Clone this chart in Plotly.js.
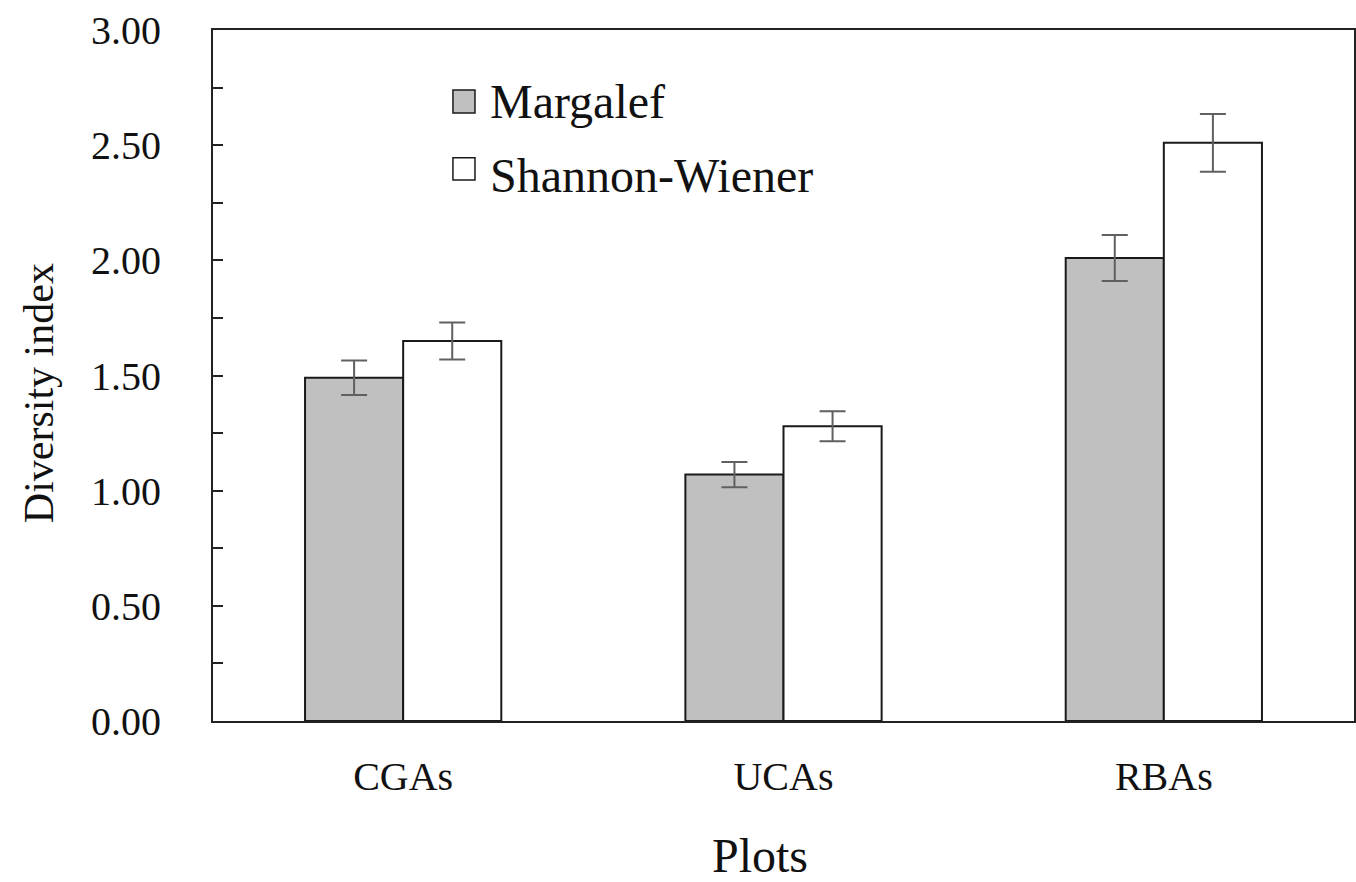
<!DOCTYPE html>
<html>
<head>
<meta charset="utf-8">
<script src="https://cdn.plot.ly/plotly-3.0.1.min.js"></script>
<style>html,body{margin:0;padding:0;background:#fff;}#chart{width:1356px;height:882px;}</style>
</head>
<body>
<div id="chart"></div>
<script>
const categories = ["CGAs", "UCAs", "RBAs"];
const margalef = [1.49, 1.07, 2.01];
const margalefErr = [0.075, 0.055, 0.10];
const shannon = [1.65, 1.28, 2.51];
const shannonErr = [0.08, 0.065, 0.125];
const seriesNames = ["Margalef", "Shannon-Wiener"];
const xTitle = "Plots";
const yTitle = "Diversity index";

const font = "'Liberation Serif', 'Times New Roman', serif";
const errStyle = {type: 'data', visible: true, color: '#606060', thickness: 2, width: 13};

const traces = [
  {type: 'bar', name: seriesNames[0], x: categories, y: margalef,
   error_y: Object.assign({array: margalefErr}, errStyle),
   marker: {color: '#c0c0c0', line: {color: '#1a1a1a', width: 2}}, showlegend: false},
  {type: 'bar', name: seriesNames[1], x: categories, y: shannon,
   error_y: Object.assign({array: shannonErr}, errStyle),
   marker: {color: '#ffffff', line: {color: '#1a1a1a', width: 2}}, showlegend: false}
];

const layout = {
  width: 1356, height: 882,
  margin: {l: 213, r: 2, t: 30, b: 161},
  paper_bgcolor: '#fff', plot_bgcolor: '#fff',
  barmode: 'group', bargap: 0.484, bargroupgap: 0,
  font: {family: font, color: '#111'},
  xaxis: {
    range: [-0.5, 2.5], showline: true, mirror: true, linecolor: '#222', linewidth: 2,
    ticks: '', showgrid: false, zeroline: false,
    tickfont: {size: 40, family: font, color: '#111'}, ticklabelstandoff: 19
  },
  yaxis: {
    range: [0, 3], showline: true, mirror: true, linecolor: '#222', linewidth: 2,
    ticks: 'inside', ticklen: 10, tickwidth: 2, tickcolor: '#222',
    dtick: 0.5, tick0: 0, tickformat: '.2f',
    minor: {dtick: 0.25, ticks: 'inside', ticklen: 10, tickwidth: 2, tickcolor: '#222', showgrid: false},
    showgrid: false, zeroline: false,
    tickfont: {size: 40, family: font, color: '#111'}, ticklabelstandoff: 42
  },
  shapes: [
    {type: 'rect', xref: 'paper', yref: 'paper', x0: 0.2103, x1: 0.2296, y0: 0.880, y1: 0.913,
     fillcolor: '#c0c0c0', line: {color: '#1a1a1a', width: 1.5}},
    {type: 'rect', xref: 'paper', yref: 'paper', x0: 0.2103, x1: 0.2296, y0: 0.783, y1: 0.815,
     fillcolor: '#ffffff', line: {color: '#1a1a1a', width: 1.5}}
  ],
  annotations: [
    {xref: 'paper', yref: 'paper', x: 0.241, y: 0.896, xanchor: 'left', yanchor: 'middle',
     text: seriesNames[0], showarrow: false, font: {size: 48, family: font, color: '#111'}},
    {xref: 'paper', yref: 'paper', x: 0.241, y: 0.790, xanchor: 'left', yanchor: 'middle',
     text: seriesNames[1], showarrow: false, font: {size: 48, family: font, color: '#111'}},
    {xref: 'paper', yref: 'paper', x: 0.479, y: -0.194, xanchor: 'center', yanchor: 'middle',
     text: xTitle, showarrow: false, font: {size: 48, family: font, color: '#111'}},
    {xref: 'paper', yref: 'paper', x: -0.153, y: 0.475, xanchor: 'center', yanchor: 'middle',
     textangle: -90, text: yTitle, showarrow: false, font: {size: 42, family: font, color: '#111'}}
  ]
};

Plotly.newPlot('chart', traces, layout, {displayModeBar: false, staticPlot: true});
</script>
</body>
</html>
